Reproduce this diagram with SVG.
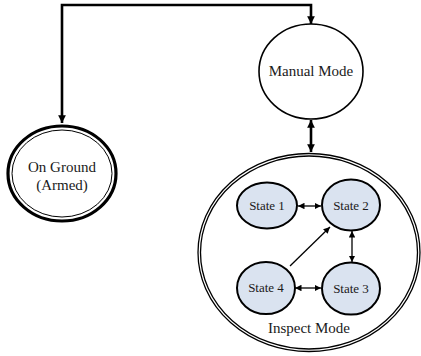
<svg xmlns="http://www.w3.org/2000/svg" width="421" height="356" viewBox="0 0 421 356">
<style>
text{font-family:"Liberation Serif","DejaVu Serif",serif;fill:#1a1a1a;text-anchor:middle;dominant-baseline:central}
.big{font-size:15px}
.st{font-size:13px}
.node{fill:#fff;stroke:#000;stroke-width:1.6}
.state{fill:#dae3f0;stroke:#000;stroke-width:2}
.thick{fill:none;stroke:#000;stroke-width:2.6}
.thin{fill:none;stroke:#000;stroke-width:1.3}
</style>
<defs>
<marker id="ah" viewBox="0 0 10 10" refX="10" refY="5" markerWidth="3" markerHeight="3.2" orient="auto-start-reverse" markerUnits="strokeWidth"><path d="M0,0L10,5L0,10z" fill="#000"/></marker>
<marker id="as" viewBox="0 0 10 10" refX="10" refY="5" markerWidth="5" markerHeight="5" orient="auto-start-reverse" markerUnits="strokeWidth"><path d="M0,0L10,5L0,10z" fill="#000"/></marker>
</defs>
<rect width="421" height="356" fill="#fff"/>
<g id="manual">
<ellipse cx="311" cy="71.5" rx="52" ry="47.5" class="node"/>
<text x="311" y="71" class="big">Manual Mode</text>
</g>
<g id="ground">
<ellipse cx="62" cy="173.5" rx="54" ry="47.5" fill="#fff" stroke="#000" stroke-width="3.2"/>
<ellipse cx="62" cy="173.5" rx="50" ry="43.5" fill="none" stroke="#000" stroke-width="1"/>
<text x="62" y="167" class="big">On Ground</text>
<text x="62" y="185" class="big">(Armed)</text>
</g>
<g id="inspect">
<ellipse cx="309" cy="252.5" rx="111" ry="99" fill="#fff" stroke="#000" stroke-width="1.3"/>
<ellipse cx="309" cy="252.5" rx="108.5" ry="96.5" fill="none" stroke="#000" stroke-width="1.3"/>
<text x="309" y="328" class="big">Inspect Mode</text>
</g>
<g id="state1">
<ellipse cx="267" cy="205.5" rx="30" ry="23" class="state"/>
<text x="267" y="205" class="st">State 1</text>
</g>
<g id="state2">
<ellipse cx="351" cy="205" rx="29" ry="25.5" class="state"/>
<text x="351" y="205" class="st">State 2</text>
</g>
<g id="state4">
<ellipse cx="266" cy="288" rx="29" ry="26" class="state"/>
<text x="266" y="287" class="st">State 4</text>
</g>
<g id="state3">
<ellipse cx="351" cy="288.5" rx="29" ry="26" class="state"/>
<text x="351" y="288" class="st">State 3</text>
</g>
<g id="connectors">
<path d="M62,123V5H311V24" class="thick" marker-start="url(#ah)" marker-end="url(#ah)"/>
<path d="M311,120V152" class="thick" marker-start="url(#ah)" marker-end="url(#ah)"/>
<path d="M298,206H321" fill="none" stroke="#000" stroke-width="1.3" marker-start="url(#as)" marker-end="url(#as)"/>
<path d="M352,231V262" fill="none" stroke="#000" stroke-width="1.3" marker-start="url(#as)" marker-end="url(#as)"/>
<path d="M295,288H321" fill="none" stroke="#000" stroke-width="1.3" marker-start="url(#as)" marker-end="url(#as)"/>
<path d="M290,266L330,227" fill="none" stroke="#000" stroke-width="1.3" marker-end="url(#as)"/>
</g>
</svg>
